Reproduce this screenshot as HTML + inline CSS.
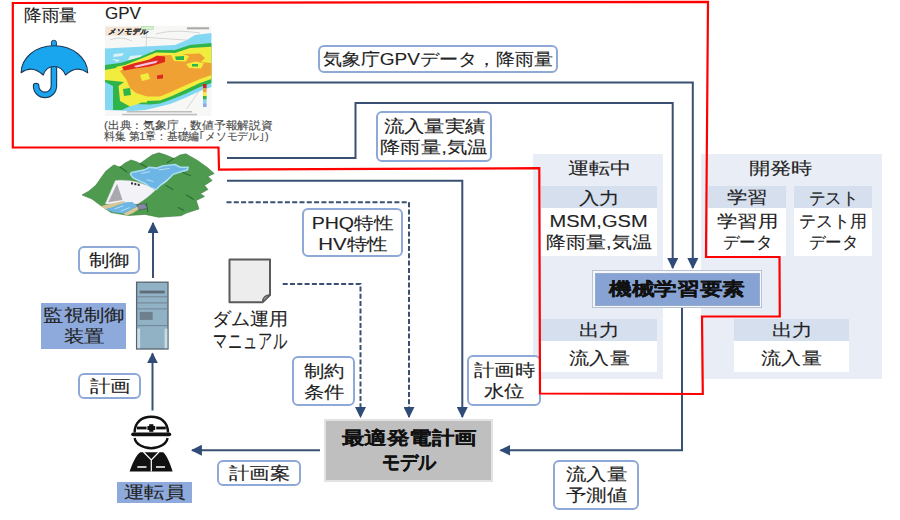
<!DOCTYPE html>
<html><head><meta charset="utf-8">
<style>
html,body{margin:0;padding:0;background:#fff;}
body{width:900px;height:520px;position:relative;overflow:hidden;font-family:"Liberation Sans",sans-serif;color:#222;-webkit-text-stroke:0.12px #222;}
.a{position:absolute;}
.lbl{position:absolute;box-sizing:border-box;border:2px solid #8EA8D8;border-radius:6px;background:#fff;text-align:center;font-size:17px;line-height:21px;}
.t{position:absolute;white-space:nowrap;}
.s{display:inline-block;transform:scaleX(1.2);transform-origin:50% 50%;white-space:nowrap;}
.panel{position:absolute;background:#E9EEF6;}
.hdr{position:absolute;background:#D5DFEE;text-align:center;font-size:17px;}
.wbox{position:absolute;background:#fff;text-align:center;font-size:17px;}
svg{position:absolute;left:0;top:0;}
</style></head><body>

<!-- panels -->
<div class="panel" style="left:533px;top:154px;width:130px;height:224.5px;"></div>
<div class="panel" style="left:701px;top:154px;width:181px;height:225px;"></div>

<div class="t" style="left:535px;top:157px;width:128px;text-align:center;font-size:17px;"><span class="s" style="transform:scaleX(1.25)">運転中</span></div>
<div class="hdr" style="left:541px;top:186px;width:116px;height:22px;line-height:22px;"><span class="s" style="transform:translateY(1.5px) scaleX(1.2)">入力</span></div>
<div class="wbox" style="left:541px;top:208px;width:116px;height:48px;line-height:21px;"><span class="s" style="transform:translateY(3px) scaleX(1.18)">MSM,GSM</span><br><span class="s" style="transform:translateY(3px) scaleX(1.18)">降雨量,気温</span></div>
<div class="hdr" style="left:541px;top:319px;width:116px;height:22px;line-height:22px;"><span class="s" style="transform:translateY(1.3px) scaleX(1.2)">出力</span></div>
<div class="wbox" style="left:541px;top:341px;width:116px;height:31px;line-height:31px;"><span class="s" style="transform:translateY(1.5px) scaleX(1.18)">流入量</span></div>

<div class="t" style="left:690px;top:157px;width:181px;text-align:center;font-size:17px;"><span class="s" style="transform:scaleX(1.25)">開発時</span></div>
<div class="hdr" style="left:708px;top:186px;width:78px;height:22px;line-height:22px;"><span class="s" style="transform:translateY(1px) scaleX(1.2)">学習</span></div>
<div class="wbox" style="left:708px;top:208px;width:78px;height:48px;line-height:21px;"><span class="s" style="transform:translateY(3px) scaleX(1.2)">学習用</span><br><span class="s" style="transform:translateY(3px) scaleX(0.97)">データ</span></div>
<div class="hdr" style="left:794px;top:186px;width:78px;height:22px;line-height:22px;"><span class="s" style="transform:translateY(1.5px) scaleX(0.97)">テスト</span></div>
<div class="wbox" style="left:794px;top:208px;width:78px;height:48px;line-height:21px;"><span class="s" style="transform:translateY(3px) scaleX(1.0)">テスト用</span><br><span class="s" style="transform:translateY(3px) scaleX(0.97)">データ</span></div>
<div class="hdr" style="left:734px;top:319px;width:115px;height:22px;line-height:22px;"><span class="s" style="transform:translateY(1.3px) scaleX(1.2)">出力</span></div>
<div class="wbox" style="left:734px;top:341px;width:115px;height:31px;line-height:31px;"><span class="s" style="transform:translateY(1.5px) scaleX(1.18)">流入量</span></div>

<!-- ML box -->
<div class="a" style="left:592px;top:270px;width:170px;height:38px;box-sizing:border-box;border:1px solid #B9C3D3;background:#F4F7FB;"></div>
<div class="a" style="left:594.5px;top:272.5px;width:165px;height:33px;box-sizing:border-box;border:1px solid #97ABCD;background:#87A3D4;text-align:center;font-weight:bold;font-size:18px;line-height:31px;color:#111;-webkit-text-stroke:0.1px #111;"><span class="s" style="transform:scaleX(1.26)">機械学習要素</span></div>

<!-- gray model box -->
<div class="a" style="left:324px;top:419px;width:169px;height:63px;box-sizing:border-box;border:2px solid #E2E2E2;background:#BFBFBF;text-align:center;font-weight:bold;font-size:18px;line-height:26px;padding-top:5px;color:#111;-webkit-text-stroke:0.1px #111;"><span class="s" style="transform:translateY(-1px) scaleX(1.25)">最適発電計画</span><br><span class="s" style="font-size:20px;transform:translateY(-3px) scaleX(0.9)">モデル</span></div>

<!-- blue name boxes -->
<div class="a" style="left:41px;top:303px;width:85px;height:46px;background:#8EA9DB;text-align:center;font-size:17px;line-height:21px;padding-top:2px;box-sizing:border-box;"><span class="s">監視制御</span><br><span class="s">装置</span></div>
<div class="a" style="left:117px;top:482px;width:75px;height:21px;background:#8EA9DB;text-align:center;font-size:17px;line-height:21px;"><span class="s">運転員</span></div>

<!-- labels -->
<div class="lbl" style="left:318px;top:45px;width:240px;height:28px;line-height:25px;"><span class="s" style="transform:scaleX(1.12)">気象庁GPVデータ，降雨量</span></div>
<div class="lbl" style="left:376px;top:111px;width:116px;height:51px;padding-top:3px;"><span class="s">流入量実績</span><br><span class="s">降雨量,気温</span></div>
<div class="lbl" style="left:302px;top:208px;width:101px;height:49px;padding-top:3px;"><span class="s" style="transform:scaleX(1.15)">PHQ特性</span><br><span class="s" style="transform:scaleX(1.2)">HV特性</span></div>
<div class="lbl" style="left:78px;top:246px;width:62px;height:28px;line-height:25px;"><span class="s">制御</span></div>
<div class="lbl" style="left:78px;top:373px;width:63px;height:26px;line-height:23px;"><span class="s">計画</span></div>
<div class="lbl" style="left:292px;top:356px;width:63px;height:50px;padding-top:3px;"><span class="s">制約</span><br><span class="s">条件</span></div>
<div class="lbl" style="left:467px;top:355px;width:74px;height:51px;padding-top:3px;"><span class="s">計画時</span><br><span class="s">水位</span></div>
<div class="lbl" style="left:217px;top:460px;width:84px;height:26px;line-height:23px;"><span class="s">計画案</span></div>
<div class="lbl" style="left:553px;top:460px;width:86px;height:50px;padding-top:2px;"><span class="s">流入量</span><br><span class="s">予測値</span></div>

<!-- plain text -->
<div class="t" style="left:24px;top:4px;font-size:17px;"><span class="s" style="transform-origin:0 50%;transform:scaleX(1.04)">降雨量</span></div>
<div class="t" style="left:105px;top:5px;font-size:16px;"><span class="s" style="transform-origin:0 50%;transform:scaleX(1.06)">GPV</span></div>
<div class="t" style="left:104px;top:120px;font-size:11px;line-height:11.3px;color:#555;"><span class="s" style="transform-origin:0 50%;transform:scaleX(1.07)">(出典：気象庁，数値予報解説資</span><br><span class="s" style="transform-origin:0 50%;transform:scaleX(0.98)">料集 第1章：基礎編｢メソモデル｣)</span></div>
<div class="t" style="left:212px;top:309px;font-size:18px;line-height:21px;"><span class="s" style="transform-origin:0 50%;transform:scaleX(1.06)">ダム運用</span><br><span class="s" style="font-size:21px;transform-origin:0 50%;transform:translate(1px,0px) scaleX(0.68)">マニュアル</span></div>

<svg width="900" height="520" viewBox="0 0 900 520">
  <defs>
    <marker id="ah" viewBox="0 0 10 10" refX="9" refY="5" markerWidth="5.5" markerHeight="5.5" orient="auto" markerUnits="strokeWidth">
      <path d="M0,0 L10,5 L0,10 z" fill="#2F4B78"/>
    </marker>
  </defs>
  <g fill="none" stroke="#3A5072" stroke-width="2">
    <polyline points="227,82.5 692.8,82.5 692.8,268" marker-end="url(#ah)"/>
    <polyline points="227,158 355.5,158 355.5,103 672.7,103 672.7,268" marker-end="url(#ah)"/>
    <polyline points="227,180.8 462.3,180.8 462.3,417" marker-end="url(#ah)"/>
    <polyline points="226.5,202.2 409,202.2 409,417" stroke-dasharray="5 2.3" marker-end="url(#ah)"/>
    <polyline points="282.7,284 360.5,284 360.5,417" stroke-dasharray="5 2.3" marker-end="url(#ah)"/>
    <polyline points="153,278 153,223" marker-end="url(#ah)"/>
    <polyline points="152.5,410.5 152.5,353.5" marker-end="url(#ah)"/>
    <polyline points="320,450.2 192,450.2" marker-end="url(#ah)"/>
    <polyline points="682,308 682,450.3 500.5,450.3" marker-end="url(#ah)"/>
  </g>
  <!-- red polygon -->
  <polygon fill="none" stroke="#FF0000" stroke-width="2.2" points="12.8,3 708,1.8 706,257 779.5,257 779.8,316.5 702,316.5 702.8,394 540,393.5 539.3,168.2 219,169.6 218.5,147.5 12.8,147.3"/>
    <!-- umbrella -->
  <g id="umbrella">
    <path d="M53.9,68 V86 A8.9,8.9 0 0 1 36.1,86" fill="none" stroke="#1E3A58" stroke-width="6.6" stroke-linecap="round"/>
    <path d="M53.9,68 V86 A8.9,8.9 0 0 1 36.1,86" fill="none" stroke="#1AA6EE" stroke-width="4.4" stroke-linecap="round"/>
    <rect x="51.4" y="40.4" width="5" height="8" rx="2" fill="#1AA6EE" stroke="#1E3A58" stroke-width="1"/>
    <path d="M21.1,72.7 C21.5,58 35,45.8 54.1,45.8 C73,45.8 87.3,58 87.7,72.7 Q76.5,64.5 65.5,75 Q62,66.5 54.1,66.5 Q46,66.5 43.3,75 Q32,64.5 21.1,72.7 Z" fill="#1AA6EE" stroke="#1E3A58" stroke-width="1.1" stroke-linejoin="round"/>
  </g>
  <!-- weather map -->
  <g>
    <rect x="104.8" y="25.8" width="106.6" height="90.2" fill="#F7F7F5"/>
    <g fill="none" stroke="#BDBDBD" stroke-width="0.6">
      <path d="M147,27 L146,47"/><path d="M141,37 L200,41"/><path d="M156,34 C170,30 185,31 200,33"/>
      <path d="M186.7,108.8 L203,85.4"/><path d="M110,40 C118,37 125,38 132,41"/>
    </g>
    <path fill="#82D8F2" d="M105,48.5 L140,46.7 L175,45 L187,40 L195,35 L211.4,33 L211.4,87 L200,91 L185,98 L170,104 L156,107.5 L145,110 L131,111 L105,110 Z"/>
    <path fill="#F7F7F5" fill-opacity="0.8" d="M114,54 L124,53 L122,56 L113,57 Z M130,56 L142,55 L140,59 L128,60 Z M150,51 L158,50 L155,53 Z M112,59 L120,60 L117,62 Z"/>
    <path fill="#2FB34B" d="M105,65 L120,63 L140,57 L156,50 L175,50 L190,45 L211.4,43 L211.4,83 L200,87 L185,94 L170,100 L160,103.5 L150,104.5 L135,104 L126,108 L122,110 L113,110 L113,86 L105,82 Z"/>
    <path fill="#F2EC3F" d="M105,69 L125,65 L140,59 L156,52.5 L175,53 L190,48 L211.4,46.7 L211.4,79 L200,83 L185,90 L172,96 L160,100.5 L145,101 L138,104 L130,106.5 L120,101 L118.5,86 L124,82 L105,80 Z"/>
    <path fill="#EFA133" d="M120,71 L127.5,66 L145,61 L156,55.7 L172,55 L186,54 L200,53.5 L205,58 L201,62 L211.4,63 L211.4,75 L200,79 L185,85.5 L172,91.5 L160,96.5 L147,96.5 L136,93 L130,88 L126.6,80 Z"/>
    <path fill="#F2EC3F" d="M171,55 L180,53.5 L189,56 L186,61.5 L174,61 Z M186,64 L195,61.5 L204,63 L201,68.5 L189,68 Z M141,100 L147,99 L147,102.6 L141,102.6 Z M140,75 L148,73 L150,79 L142,81 Z"/>
    <path fill="#2FB34B" d="M175,56.5 L184,56 L184,60 L176,60 Z M192,64 L198,64 L198,66.5 L192,66.5 Z M123,89 L130,88 L131,95 L124,96 Z M105,66 L118,64 L116,68 L105,70 Z"/>
    <path fill="#E0281E" d="M122,67 L135,63 L150,59.5 L157,55.7 L165,56.5 L165,62 L150,66.5 L135,68.5 L124,70.5 Z"/>
    <path fill="#F4C6E4" d="M134,66 L148,62.5 L158,60.5 L156,63 L145,65.5 L136,67.5 Z"/>
    <path fill="#E0281E" d="M157,75.5 L163,74.5 L163,78.5 L157,79 Z"/>
    <rect x="105.2" y="26.8" width="35" height="8.8" fill="#F4E6D6"/>
    <text x="107.5" y="34.3" font-size="7.6" font-style="italic" font-weight="bold" fill="#333" stroke="#333" stroke-width="0.2">メソモデル</text>
    <rect x="141.5" y="26.5" width="12" height="2.8" fill="#D8F0C8" stroke="#8BC88A" stroke-width="0.4"/>
    <rect x="187" y="27.3" width="22" height="2" fill="#A8A8A8"/>
    <rect x="203" y="84" width="3.6" height="4.2" fill="#D0202A"/>
    <rect x="203" y="88.2" width="3.6" height="4.2" fill="#EFA133"/>
    <rect x="203" y="92.4" width="3.6" height="3.6" fill="#F2EC3F"/>
    <rect x="203" y="96" width="3.6" height="3.6" fill="#2FB34B"/>
    <rect x="203" y="99.6" width="3.6" height="3.6" fill="#82D8F2"/>
    <rect x="203" y="103.2" width="3.6" height="3.8" fill="#8FA8E8"/>
    <rect x="127" y="111" width="65" height="1.5" fill="#BDBDBD"/>
    <rect x="122" y="113.8" width="75" height="1.5" fill="#BDBDBD"/>
  </g>
  <!-- dam -->
    <path fill="#4E9B50" stroke="#3F7F42" stroke-width="0.6" stroke-linejoin="round" d="M82,195 L89,191 L96,185 L103,175 L106,171 L113,165.5 L114.5,165 L118,166.5 L120,167 L125,163 L131,160 L136,161.5 L140,163.5 L145,160 L152,155 L158.8,152.8 L166,155 L174,158.4 L180,155 L185.8,153.8 L197.6,160.5 L207.3,167.4 L214.2,173.6 L208,176.4 L212.1,180.5 L204.5,185.4 L208,189.5 L200.3,193.7 L204.5,196.4 L196.2,200.6 L199,208.9 L186.5,213 L181,215.8 L158.8,217.2 L145,214.4 L128.7,215.5 L111,212.6 L100,205 L92,199 Z"/>
  <g fill="none" stroke="#2F6B34" stroke-width="1.1" stroke-linecap="round">
    <path d="M120,167 L127,172"/><path d="M140,163.5 L148,168"/><path d="M174,158.4 L167,163"/>
    <path d="M182.4,172.2 L190.7,175.7"/><path d="M165.8,185.4 L172.7,189.5"/><path d="M186.5,195 L193.4,199.2"/><path d="M178.2,207.5 L183.7,210.3"/><path d="M146.4,203 L147.8,211.6"/>
  </g>
  <g transform="translate(70,145) scale(0.17778)" stroke-linejoin="round">
    
    <path fill="#6CB5E4" stroke="#A8DCF4" stroke-width="9" d="M345,155 L420,140 L445,125 L490,130 L520,118 L590,110 L620,125 L665,125 L660,140 L625,150 L580,165 L545,200 L510,225 L485,250 L450,240 L420,215 L385,200 L355,185 L340,165 Z"/>
    <path fill="none" stroke="#D6EEF9" stroke-width="4" d="M400,160 L450,150 M500,140 L560,132 M560,185 L525,215 M430,195 L470,205"/>
    <path fill="#F2F2F7" stroke="#CFCFD8" stroke-width="2" d="M255,200 C320,192 410,205 480,255 C450,285 415,310 380,332 L300,330 L198,332 Z"/>
    <path fill="#A8A8AE" d="M265,218 L295,310 L215,322 Z"/>
    <rect x="343" y="210" width="11" height="12" fill="#333"/>
    <rect x="362" y="214" width="11" height="12" fill="#333"/>
    <rect x="381" y="218" width="11" height="12" fill="#333"/>
    <path fill="#D8C898" d="M170,345 L230,330 L300,315 L312,322 L240,350 L200,362 Z"/>
    <path fill="#D8C898" d="M300,385 L350,360 L380,345 L396,356 L350,386 L320,396 Z"/>
    <path fill="#6CB5E4" d="M200,362 L240,350 L312,322 L350,320 L380,345 L350,360 L300,385 L245,378 Z"/>
    <path fill="none" stroke="#D6EEF9" stroke-width="4" d="M250,360 L300,342 M285,372 L335,352"/>
    <path fill="#8488A6" stroke="#4A4A5A" stroke-width="3" d="M375,336 L420,330 L436,356 L390,366 Z"/>
  </g>
  <!-- server -->
  <g>
    <rect x="136.6" y="282.2" width="31.4" height="66.8" fill="#91B1C4" stroke="#59636E" stroke-width="1.3"/>
    <rect x="139.7" y="290.6" width="25" height="2.8" fill="#5F6D79"/>
    <g stroke="#6C808F" stroke-width="0.9">
      <line x1="137.3" y1="296.8" x2="167.3" y2="296.8"/>
      <line x1="137.3" y1="302.9" x2="167.3" y2="302.9"/>
      <line x1="137.3" y1="308.9" x2="167.3" y2="308.9"/>
      <line x1="137.3" y1="325.6" x2="167.3" y2="325.6"/>
    </g>
    <rect x="139.7" y="311.9" width="13" height="8" fill="#6E808D"/>
    <rect x="137.3" y="328.6" width="2.8" height="19.6" fill="#C9DCE6"/>
    <rect x="164.6" y="328.6" width="2.8" height="19.6" fill="#C9DCE6"/>
  </g>
  <!-- document -->
  <g>
    <path d="M229.5,259.5 H270 V295 L262.5,302.2 H229.5 Z" fill="#EDEDED" stroke="#5A5A5A" stroke-width="2" stroke-linejoin="round"/>
    <path d="M262.5,302.2 Q263,295 270,295 Z" fill="#BDBDBD" stroke="#5A5A5A" stroke-width="1.3" stroke-linejoin="round"/>
  </g>
  <!-- worker -->
  <g>
    <path d="M134.6,432.6 C134.6,422 142,416.8 151.3,416.8 C160.6,416.8 168,422 168,432.6" fill="#fff" stroke="#111" stroke-width="2.4"/>
    <rect x="137" y="426.6" width="9.6" height="2.8" fill="#111"/>
    <rect x="156.2" y="426.6" width="9.6" height="2.8" fill="#111"/>
    <rect x="149.2" y="424.2" width="4.2" height="7.6" fill="#111"/>
    <rect x="147.4" y="426" width="7.8" height="4" fill="#111"/>
    <rect x="131.2" y="432.4" width="40" height="3.8" rx="1.9" fill="#111"/>
    <path d="M134.6,438 A16.6,11.5 0 0 0 167.6,438" fill="none" stroke="#111" stroke-width="2.3"/>
    <path d="M140.2,452.2 L163.2,452.2 C167,455 171,466 172.6,471.6 L129.6,471.6 C131.4,466 135.6,455 140.2,452.2 Z" fill="#111"/>
    <path d="M143.5,452 L151.3,460 L159,452 M151.3,460 V471.6" fill="none" stroke="#fff" stroke-width="1.2"/>
    <path d="M137.3,467 H146.5 M156,467 H165" fill="none" stroke="#fff" stroke-width="1.3"/>
  </g>

</svg>
</body></html>
